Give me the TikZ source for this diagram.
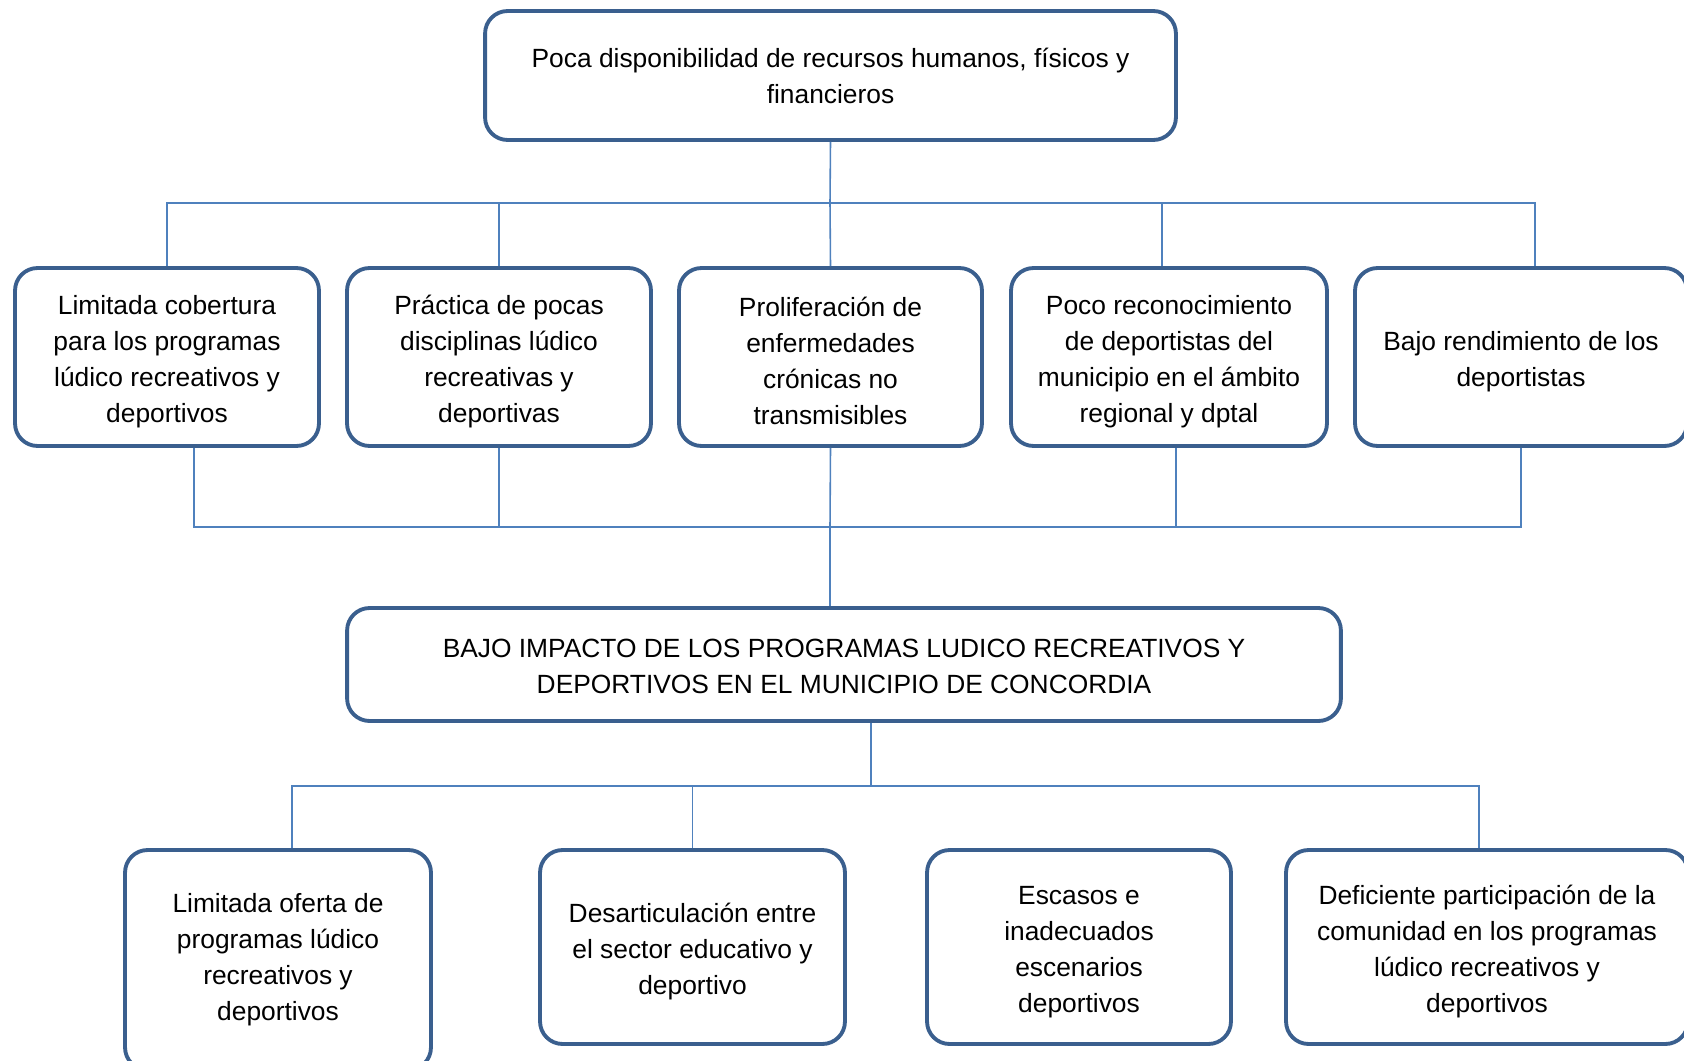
\documentclass[tikz,border=0pt]{standalone}
\usepackage{fontspec}
\setmainfont{Liberation Sans}
\definecolor{boxblue}{HTML}{3A5F8E}
\definecolor{lineblue}{HTML}{4F81BD}
\usetikzlibrary{positioning,calc}
\newcommand{\padup}[1]{\rule{0pt}{#1}}

\begin{document}
\begin{tikzpicture}[
  x=0.02cm, y=-0.02cm,
  box/.style={draw=boxblue, line width=2.2pt, rounded corners=0.45cm, fill=white,
    align=center, inner sep=0pt, font=\fontsize{15}{20.5}\selectfont},
  link/.style={lineblue, line width=0.9pt}
]
  \useasboundingbox (0,0) rectangle (1684,1061);

  \node[box, minimum width=13.82cm, minimum height=2.58cm] (recursos) at (830.5,75.5)
    {Poca disponibilidad de recursos humanos, físicos y\\financieros};

  \node[box, minimum width=6.08cm, minimum height=3.56cm] (cobertura) at (167,357)
    {\padup{15.9pt}Limitada cobertura\\para los programas\\lúdico recreativos y\\deportivos};
  \node[box, minimum width=6.08cm, minimum height=3.56cm] (practica) at (499,357)
    {\padup{15.9pt}Práctica de pocas\\disciplinas lúdico\\recreativas y\\deportivas};
  \node[box, minimum width=6.06cm, minimum height=3.56cm] (enfermedades) at (830.5,357)
    {\padup{15.9pt}Proliferación de\\enfermedades\\crónicas no\\transmisibles};
  \node[box, minimum width=6.32cm, minimum height=3.56cm] (reconoc) at (1169,357)
    {\padup{15.9pt}Poco reconocimiento\\de deportistas del\\municipio en el ámbito\\regional y dptal};
  \node[box, minimum width=6.64cm, minimum height=3.56cm] (rendim) at (1521,357)
    {\padup{15.9pt}Bajo rendimiento de los\\deportistas};

  \node[box, minimum width=19.88cm, minimum height=2.26cm] (impacto) at (844,664.5)
    {\padup{13.2pt}BAJO IMPACTO DE LOS PROGRAMAS LUDICO RECREATIVOS Y\\DEPORTIVOS EN EL MUNICIPIO DE CONCORDIA};

  \node[box, minimum width=6.12cm, minimum height=4.4cm] (oferta) at (278,960)
    {Limitada oferta de\\programas lúdico\\recreativos y\\deportivos};
  \node[box, minimum width=6.1cm, minimum height=3.88cm] (desart) at (692.5,947)
    {\padup{15.9pt}Desarticulación entre\\el sector educativo y\\deportivo};
  \node[box, minimum width=6.08cm, minimum height=3.88cm] (escasos) at (1079,947)
    {\padup{15.9pt}Escasos e\\inadecuados\\escenarios\\deportivos};
  \node[box, minimum width=8.04cm, minimum height=3.88cm] (particip) at (1487,947)
    {\padup{15.9pt}Deficiente participación de la\\comunidad en los programas\\lúdico recreativos y\\deportivos};

  \coordinate (topbus) at (830,203);
  \coordinate (midbus) at (830,527);
  \coordinate (lowbus) at (871,786);

  \draw[link] (recursos.south) -- (topbus);
  \draw[link] (cobertura.north) |- (topbus);
  \draw[link] (practica.north) |- (topbus);
  \draw[link] (enfermedades.north) -- (topbus);
  \draw[link] ($(reconoc.north)+(-7,0)$) |- (topbus);
  \draw[link] ($(rendim.north)+(14,0)$) |- (topbus);

  \draw[link] ($(cobertura.south)+(27,0)$) |- (midbus);
  \draw[link] (practica.south) |- (midbus);
  \draw[link] (enfermedades.south) -- (midbus);
  \draw[link] ($(reconoc.south)+(7,0)$) |- (midbus);
  \draw[link] (rendim.south) |- (midbus);
  \draw[link] (midbus) -- (midbus |- impacto.north);

  \draw[link] (lowbus |- impacto.south) -- (lowbus);
  \draw[link] ($(oferta.north)+(14,0)$) |- (lowbus);
  \draw[link] (desart.north) |- (lowbus);
  \draw[link] ($(particip.north)+(-8,0)$) |- (lowbus);
\end{tikzpicture}
\end{document}
